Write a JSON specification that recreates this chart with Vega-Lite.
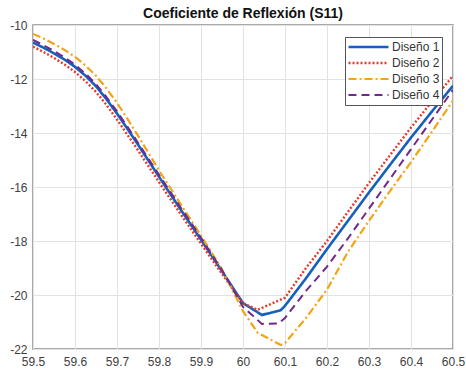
{
  "$schema": "https://vega.github.io/schema/vega-lite/v6.json",
  "width": 420,
  "height": 324,
  "autosize": {"type": "none"},
  "padding": {"left": 33, "top": 25, "right": 13, "bottom": 25},
  "background": "white",
  "title": {"text": "Coeficiente de Reflexión (S11)", "font": "Liberation Sans", "fontSize": 14, "fontWeight": "bold", "color": "#111111", "anchor": "middle", "offset": -2},
  "config": {
    "view": {"stroke": "#8c8c8c", "strokeWidth": 1.5},
    "axis": {"labelFont": "Liberation Sans", "labelFontSize": 12, "labelColor": "#404040", "gridColor": "#e2e2e2", "gridWidth": 1, "domain": false, "ticks": false, "title": null}
  },
  "data": {"values": [
    {"x": 59.5, "y": -10.65, "s": "Diseño 1"},
    {"x": 59.525, "y": -10.84, "s": "Diseño 1"},
    {"x": 59.55, "y": -11.05, "s": "Diseño 1"},
    {"x": 59.575, "y": -11.28, "s": "Diseño 1"},
    {"x": 59.6, "y": -11.55, "s": "Diseño 1"},
    {"x": 59.625, "y": -11.88, "s": "Diseño 1"},
    {"x": 59.65, "y": -12.27, "s": "Diseño 1"},
    {"x": 59.675, "y": -12.75, "s": "Diseño 1"},
    {"x": 59.7, "y": -13.28, "s": "Diseño 1"},
    {"x": 59.725, "y": -13.85, "s": "Diseño 1"},
    {"x": 59.75, "y": -14.43, "s": "Diseño 1"},
    {"x": 59.8, "y": -15.62, "s": "Diseño 1"},
    {"x": 59.85, "y": -16.8, "s": "Diseño 1"},
    {"x": 59.9, "y": -17.95, "s": "Diseño 1"},
    {"x": 59.95, "y": -19.12, "s": "Diseño 1"},
    {"x": 60.0, "y": -20.3, "s": "Diseño 1"},
    {"x": 60.045, "y": -20.74, "s": "Diseño 1"},
    {"x": 60.09, "y": -20.56, "s": "Diseño 1"},
    {"x": 60.1, "y": -20.4, "s": "Diseño 1"},
    {"x": 60.15, "y": -19.38, "s": "Diseño 1"},
    {"x": 60.2, "y": -18.3, "s": "Diseño 1"},
    {"x": 60.25, "y": -17.25, "s": "Diseño 1"},
    {"x": 60.3, "y": -16.2, "s": "Diseño 1"},
    {"x": 60.35, "y": -15.18, "s": "Diseño 1"},
    {"x": 60.4, "y": -14.17, "s": "Diseño 1"},
    {"x": 60.45, "y": -13.2, "s": "Diseño 1"},
    {"x": 60.5, "y": -12.25, "s": "Diseño 1"},

    {"x": 59.5, "y": -10.8, "s": "Diseño 2"},
    {"x": 59.525, "y": -11.0, "s": "Diseño 2"},
    {"x": 59.55, "y": -11.22, "s": "Diseño 2"},
    {"x": 59.575, "y": -11.46, "s": "Diseño 2"},
    {"x": 59.6, "y": -11.74, "s": "Diseño 2"},
    {"x": 59.625, "y": -12.08, "s": "Diseño 2"},
    {"x": 59.65, "y": -12.48, "s": "Diseño 2"},
    {"x": 59.675, "y": -12.96, "s": "Diseño 2"},
    {"x": 59.7, "y": -13.5, "s": "Diseño 2"},
    {"x": 59.725, "y": -14.07, "s": "Diseño 2"},
    {"x": 59.75, "y": -14.64, "s": "Diseño 2"},
    {"x": 59.8, "y": -15.82, "s": "Diseño 2"},
    {"x": 59.85, "y": -16.97, "s": "Diseño 2"},
    {"x": 59.9, "y": -18.1, "s": "Diseño 2"},
    {"x": 59.95, "y": -19.22, "s": "Diseño 2"},
    {"x": 60.0, "y": -20.3, "s": "Diseño 2"},
    {"x": 60.035, "y": -20.55, "s": "Diseño 2"},
    {"x": 60.1, "y": -20.1, "s": "Diseño 2"},
    {"x": 60.15, "y": -19.0, "s": "Diseño 2"},
    {"x": 60.2, "y": -18.0, "s": "Diseño 2"},
    {"x": 60.25, "y": -16.92, "s": "Diseño 2"},
    {"x": 60.3, "y": -15.85, "s": "Diseño 2"},
    {"x": 60.35, "y": -14.82, "s": "Diseño 2"},
    {"x": 60.4, "y": -13.8, "s": "Diseño 2"},
    {"x": 60.45, "y": -12.83, "s": "Diseño 2"},
    {"x": 60.5, "y": -11.88, "s": "Diseño 2"},

    {"x": 59.5, "y": -10.33, "s": "Diseño 3"},
    {"x": 59.525, "y": -10.5, "s": "Diseño 3"},
    {"x": 59.55, "y": -10.7, "s": "Diseño 3"},
    {"x": 59.575, "y": -10.92, "s": "Diseño 3"},
    {"x": 59.6, "y": -11.18, "s": "Diseño 3"},
    {"x": 59.625, "y": -11.5, "s": "Diseño 3"},
    {"x": 59.65, "y": -11.88, "s": "Diseño 3"},
    {"x": 59.675, "y": -12.35, "s": "Diseño 3"},
    {"x": 59.7, "y": -12.88, "s": "Diseño 3"},
    {"x": 59.725, "y": -13.48, "s": "Diseño 3"},
    {"x": 59.75, "y": -14.1, "s": "Diseño 3"},
    {"x": 59.8, "y": -15.38, "s": "Diseño 3"},
    {"x": 59.85, "y": -16.6, "s": "Diseño 3"},
    {"x": 59.9, "y": -17.8, "s": "Diseño 3"},
    {"x": 59.95, "y": -19.05, "s": "Diseño 3"},
    {"x": 60.0, "y": -20.6, "s": "Diseño 3"},
    {"x": 60.035, "y": -21.4, "s": "Diseño 3"},
    {"x": 60.09, "y": -21.85, "s": "Diseño 3"},
    {"x": 60.1, "y": -21.78, "s": "Diseño 3"},
    {"x": 60.15, "y": -20.85, "s": "Diseño 3"},
    {"x": 60.2, "y": -19.8, "s": "Diseño 3"},
    {"x": 60.25, "y": -18.4, "s": "Diseño 3"},
    {"x": 60.3, "y": -17.25, "s": "Diseño 3"},
    {"x": 60.35, "y": -16.15, "s": "Diseño 3"},
    {"x": 60.4, "y": -15.08, "s": "Diseño 3"},
    {"x": 60.45, "y": -13.95, "s": "Diseño 3"},
    {"x": 60.5, "y": -12.8, "s": "Diseño 3"},

    {"x": 59.5, "y": -10.55, "s": "Diseño 4"},
    {"x": 59.525, "y": -10.75, "s": "Diseño 4"},
    {"x": 59.55, "y": -10.96, "s": "Diseño 4"},
    {"x": 59.575, "y": -11.2, "s": "Diseño 4"},
    {"x": 59.6, "y": -11.47, "s": "Diseño 4"},
    {"x": 59.625, "y": -11.8, "s": "Diseño 4"},
    {"x": 59.65, "y": -12.19, "s": "Diseño 4"},
    {"x": 59.675, "y": -12.67, "s": "Diseño 4"},
    {"x": 59.7, "y": -13.2, "s": "Diseño 4"},
    {"x": 59.725, "y": -13.77, "s": "Diseño 4"},
    {"x": 59.75, "y": -14.36, "s": "Diseño 4"},
    {"x": 59.8, "y": -15.55, "s": "Diseño 4"},
    {"x": 59.85, "y": -16.72, "s": "Diseño 4"},
    {"x": 59.9, "y": -17.88, "s": "Diseño 4"},
    {"x": 59.95, "y": -19.08, "s": "Diseño 4"},
    {"x": 60.0, "y": -20.44, "s": "Diseño 4"},
    {"x": 60.045, "y": -21.07, "s": "Diseño 4"},
    {"x": 60.085, "y": -21.05, "s": "Diseño 4"},
    {"x": 60.1, "y": -20.85, "s": "Diseño 4"},
    {"x": 60.15, "y": -19.85, "s": "Diseño 4"},
    {"x": 60.2, "y": -18.95, "s": "Diseño 4"},
    {"x": 60.25, "y": -17.9, "s": "Diseño 4"},
    {"x": 60.3, "y": -16.8, "s": "Diseño 4"},
    {"x": 60.35, "y": -15.7, "s": "Diseño 4"},
    {"x": 60.4, "y": -14.6, "s": "Diseño 4"},
    {"x": 60.45, "y": -13.5, "s": "Diseño 4"},
    {"x": 60.5, "y": -12.4, "s": "Diseño 4"}
  ]},
  "mark": {"type": "line", "clip": true},
  "encoding": {
    "x": {"field": "x", "type": "quantitative", "scale": {"domain": [59.5, 60.5], "nice": false, "zero": false},
      "axis": {"values": [59.5, 59.6, 59.7, 59.8, 59.9, 60.0, 60.1, 60.2, 60.3, 60.4, 60.5], "format": ".1~f", "labelPadding": 7, "labelFlush": false}},
    "y": {"field": "y", "type": "quantitative", "scale": {"domain": [-22, -10], "nice": false, "zero": false},
      "axis": {"values": [-22, -20, -18, -16, -14, -12, -10], "labelExpr": "'' + datum.value", "labelPadding": 6, "labelFlush": false}},
    "color": {"field": "s", "type": "nominal",
      "scale": {"domain": ["Diseño 1", "Diseño 2", "Diseño 3", "Diseño 4"], "range": ["#1560bd", "#e23b2a", "#f2a414", "#702a8c"]},
      "legend": {"title": null, "orient": "none", "legendX": 312, "legendY": 12, "symbolType": "stroke", "symbolSize": 1600, "clipHeight": 16, "rowPadding": 0, "padding": 2, "labelOffset": 2, "labelFont": "Liberation Sans", "labelFontSize": 12, "labelColor": "#333333", "fillColor": "white", "strokeColor": "#555555"}},
    "strokeDash": {"field": "s", "type": "nominal",
      "scale": {"domain": ["Diseño 1", "Diseño 2", "Diseño 3", "Diseño 4"], "range": [[1, 0], [2, 2], [8, 3, 2, 3], [8, 5]]}},
    "strokeWidth": {"field": "s", "type": "nominal",
      "scale": {"domain": ["Diseño 1", "Diseño 2", "Diseño 3", "Diseño 4"], "range": [2.6, 2, 2, 2.4]}}
  }
}
